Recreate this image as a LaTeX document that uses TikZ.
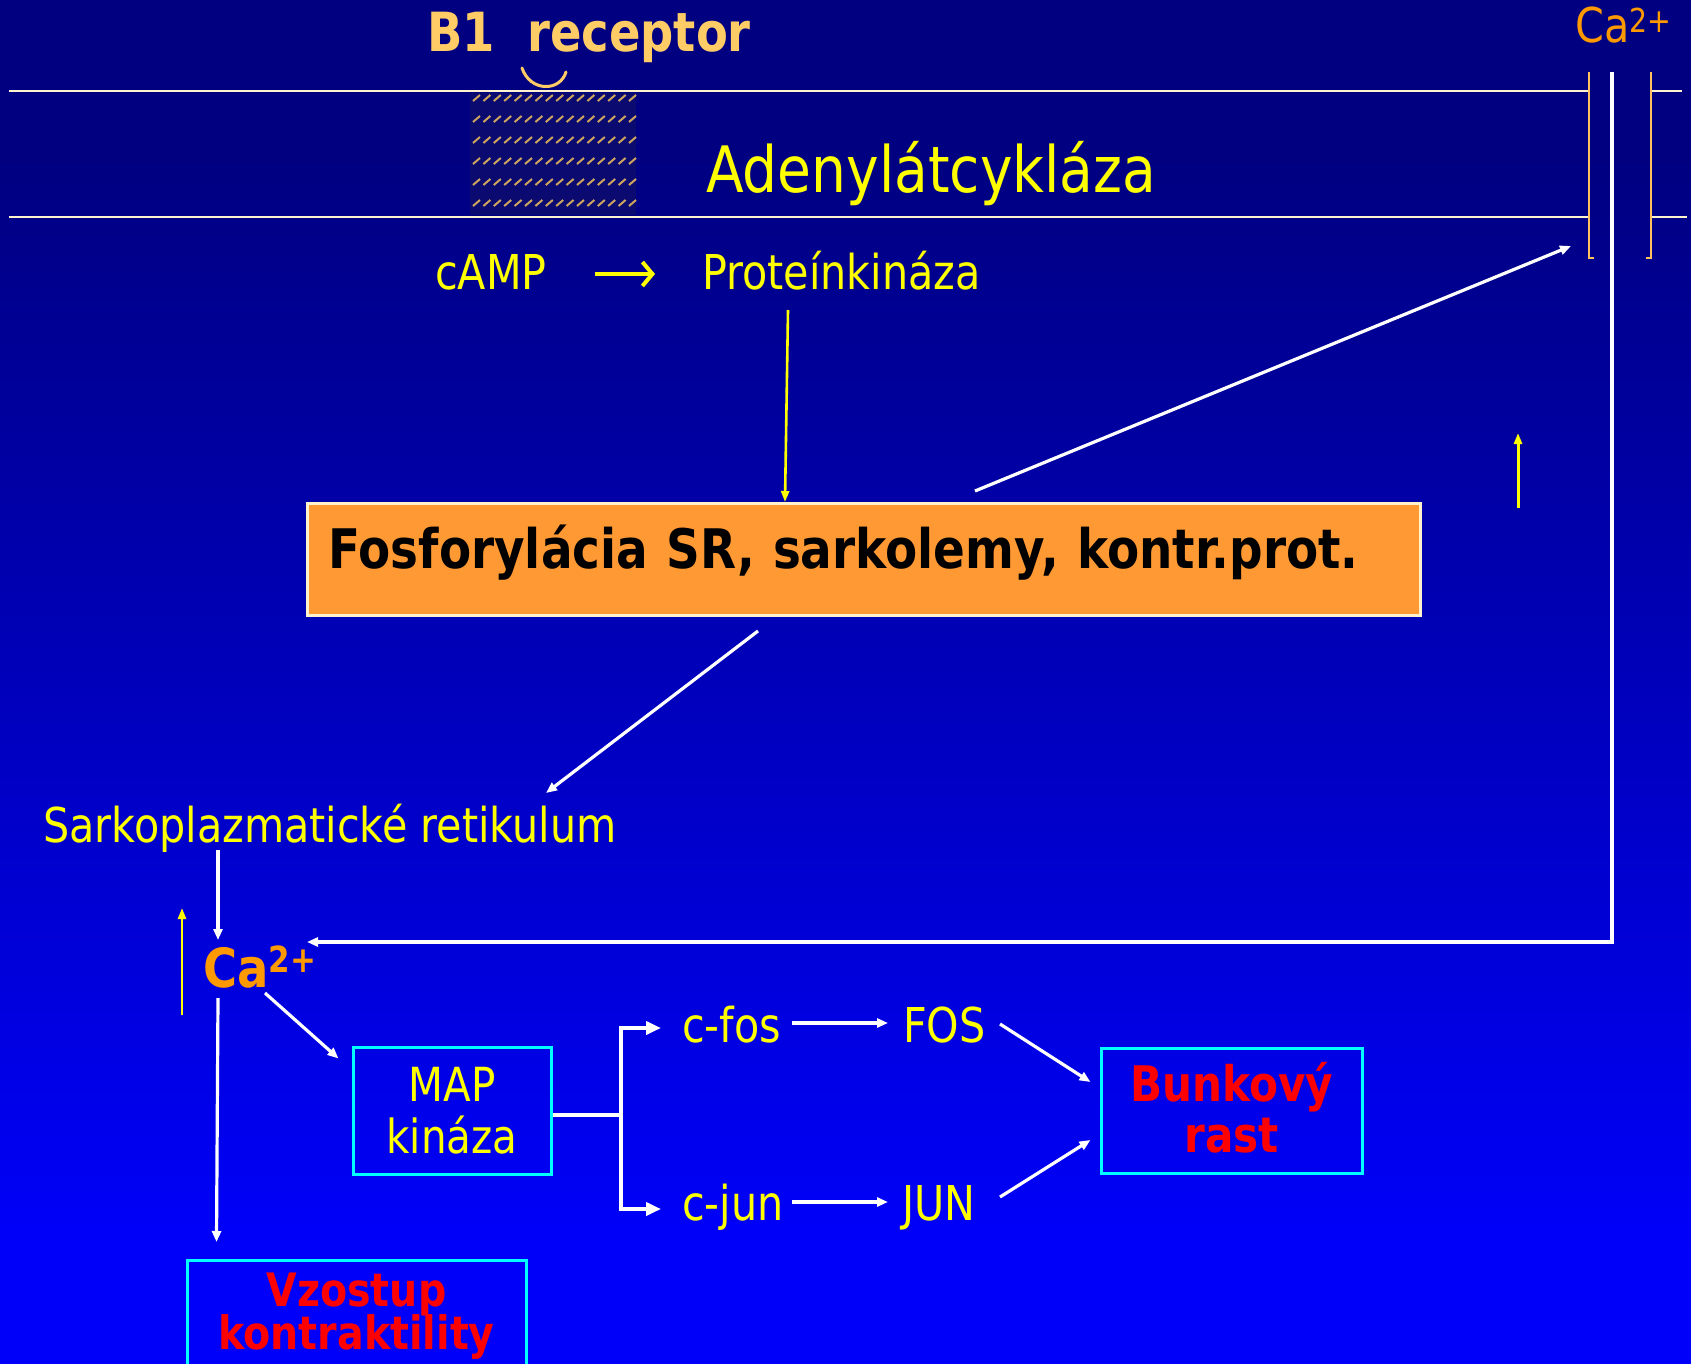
\documentclass[tikz,border=0pt]{standalone}
\usepackage{fontspec}
\setmainfont{DejaVu Sans}[FakeStretch=0.86]
\usetikzlibrary{arrows.meta,calc}
\definecolor{navytop}{RGB}{0,0,128}
\definecolor{bluebot}{RGB}{0,0,250}
\definecolor{ylw}{RGB}{255,255,0}
\definecolor{rcpt}{RGB}{255,204,102}
\definecolor{caor}{RGB}{255,153,0}
\definecolor{fosor}{RGB}{255,153,51}
\definecolor{cream}{RGB}{255,242,204}
\definecolor{cyanb}{RGB}{0,255,255}
\definecolor{redt}{RGB}{255,0,0}
\definecolor{chanor}{RGB}{255,192,96}
\definecolor{hatchbg}{RGB}{10,10,112}
\definecolor{hatchfg}{RGB}{205,165,95}
\lineskiplimit=-100pt
\begin{document}
\begin{tikzpicture}[x=1pt,y=-1pt,
  txt/.style={inner sep=0pt, anchor=base west},
  reg/.style={txt, text=ylw, font=\fontsize{48}{50}\selectfont},
  wline/.style={draw=white, line width=3.2pt},
  warr/.style={wline, -{Triangle[length=11pt,width=9pt]}},
  warrbig/.style={draw=white, line width=4pt, -{Triangle[length=15pt,width=13pt]}},
  yarr/.style={draw=ylw, line width=2.6pt, -{Triangle[length=11pt,width=8pt]}},
  cbox/.style={draw=cyanb, line width=3pt, inner sep=0pt, align=center},
]
\useasboundingbox (0,0) rectangle (1691,1364);
\clip (0,0) rectangle (1691,1364);
% background
\fill[navytop] (0,0) rectangle (1691,151);
\shade[top color=navytop, bottom color=bluebot] (0,150) rectangle (1691,1251);
\fill[bluebot] (0,1250) rectangle (1691,1364);

% hatched receptor block
\fill[hatchbg] (470,93) rectangle (636,215);
\foreach \r in {0,...,5}{\foreach \c in {0,...,15}{
  \draw[hatchfg, line width=2pt] ({473+10.4*\c},{101+21*\r}) -- ++(7,-6);}}

% membrane
\draw[cream, line width=2pt] (9,91) -- (1588,91) (1652,91) -- (1682,91)
  (9,217) -- (1588,217) (1652,217) -- (1687,217);

% receptor binding arc
\draw[rcpt, line width=3pt, line cap=round] (522,68) .. controls (530,92) and (560,92) .. (566,72);

% Ca channel
\draw[chanor, line width=2.5pt] (1594,258) -- (1589,258) -- (1589,72);
\draw[chanor, line width=2.5pt] (1646,258) -- (1651,258) -- (1651,72);

% texts
\node[txt, text=rcpt, font=\bfseries\fontsize{54}{56}\selectfont] (b1) at (427,52) {B1~~receptor};
\node[txt, text=ylw, font=\fontsize{64}{66}\selectfont] (adc) at (706,193) {Adenylátcykláza};
\node[reg, text=caor] (catop) at (1575,43) {Ca\raisebox{10pt}{\fontsize{33}{33}\selectfont 2+}};
\node[reg] (camp) at (435,290) {cAMP};
\node[reg] (prot) at (702,290) {Proteínkináza};

\node[draw=cream, fill=fosor, line width=3pt, anchor=north west, text width=1071pt, align=left,
  inner xsep=21pt, inner ysep=15pt, text height=50pt, text depth=32pt,
  font=\bfseries\fontsize{54.5}{57}\selectfont, text=black] (fosf) at (306,502)
  {Fosforylácia SR, sarkolemy, kontr.prot.};

\node[reg] (sr) at (43,842) {Sarkoplazmatické retikulum};
\node[txt, text=caor, font=\bfseries\fontsize{54}{56}\selectfont] (ca) at (203,987)
  {Ca\raisebox{15pt}{\fontsize{36}{36}\selectfont 2+}};

\node[cbox, minimum width=198pt, minimum height=127pt, text=ylw,
  font=\fontsize{47}{52}\selectfont] (map) at (452,1110.5)
  {MAP\\kináza};
\node[reg] (cfos) at (682,1042) {c-fos};
\node[reg] (FOS) at (903,1042) {FOS};
\node[reg] (cjun) at (682,1220) {c-jun};
\node[reg] (JUN) at (902,1220) {JUN};
\node[cbox, minimum width=261pt, minimum height=125pt, text=redt,
  font=\bfseries\fontsize{49}{51}\selectfont] (bunk) at (1231.5,1110.5)
  {Bunkový\\rast\rule[-6pt]{0pt}{1pt}};
\node[cbox, minimum width=339pt, minimum height=141.5pt, anchor=north, text=redt,
  font=\bfseries\fontsize{46}{43}\selectfont] (vzo) at (356.5,1259)
  {Vzostup\\kontraktility\rule[-40pt]{0pt}{1pt}};

% coordinates
\coordinate (chin) at (1571,246);
\coordinate (up1a) at (1518,508);
\coordinate (up1b) at (1518,433);
\coordinate (chtop) at (1612,72);
\coordinate (chbend) at (1612,942);

% connectors
\draw[yarr] ($(prot.base west)+(86,20)$) -- ($(fosf.north west)+(479,0)$);
\draw[draw=ylw, line width=4pt, -{Straight Barb[length=10pt,width=24pt]}]
  ($(camp.base west)+(160,-16)$) -- ($(prot.base west)+(-47,-16)$);
\draw[warr] ($(fosf.north west)+(669,-11)$) -- (chin);
\draw[yarr, line width=3pt] (up1a) -- (up1b);
\draw[warr] ($(fosf.south west)+(452,14)$) -- ($(sr.base west)+(503,-49)$);
\draw[warr] ($(sr.base west)+(175,8)$) -- ($(ca.base west)+(15,-47)$);
\draw[yarr] ($(ca.base west)+(-21,28)$) -- ($(ca.base west)+(-21,-79)$);
\draw[warr] (chtop) -- (chbend) -- ($(ca.base west)+(104,-45)$);
\draw[warr] ($(ca.base west)+(15,11)$) -- ($(vzo.north west)+(31,-17)$);
\draw[warr] ($(ca.base west)+(62,6)$) -- ($(map.north west)+(-13,13)$);
\draw[draw=white, line width=4pt] ($(map.east)+(0,4.5)$) -- ++(68,0) coordinate (br);
\draw[warrbig] (br) |- ($(cfos.base west)+(-21,-14)$);
\draw[warrbig] (br) |- ($(cjun.base west)+(-21,-11)$);
\draw[warr] ($(cfos.base west)+(110,-19)$) -- ($(FOS.base west)+(-15,-19)$);
\draw[warr] ($(cjun.base west)+(110,-18)$) -- ($(JUN.base west)+(-14,-18)$);
\draw[warr] ($(FOS.base west)+(97,-18)$) -- ($(bunk.west)+(-9,-28.5)$);
\draw[warr] ($(JUN.base west)+(98,-23)$) -- ($(bunk.west)+(-9,29.5)$);
\end{tikzpicture}
\end{document}
